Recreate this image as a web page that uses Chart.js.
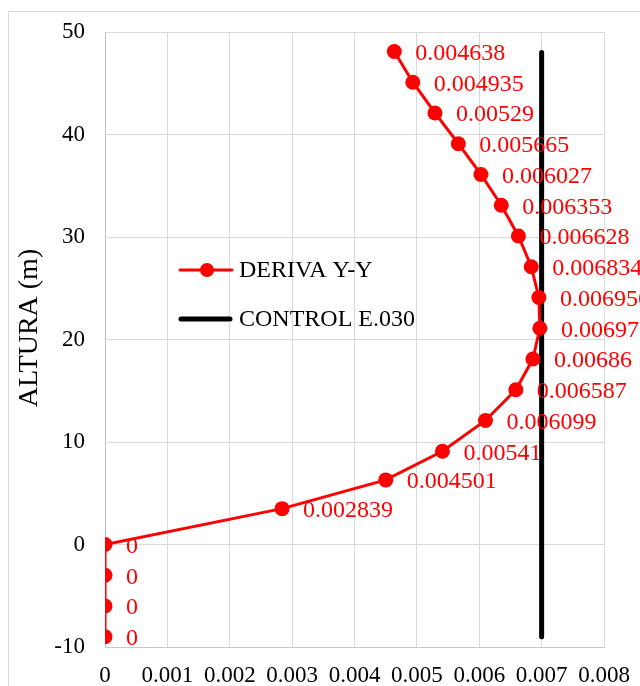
<!DOCTYPE html>
<html>
<head>
<meta charset="utf-8">
<script src="https://cdn.jsdelivr.net/npm/chart.js@4.4.1/dist/chart.umd.min.js"></script>
<style>
html, body { margin: 0; padding: 0; background: #fff; }
#wrap { position: relative; width: 640px; height: 686px; overflow: hidden; }
#frame { position: absolute; left: 8px; top: 11px; width: 700px; height: 700px; border: 1px solid #d9d9d9; box-sizing: border-box; }
#myChart { position: absolute; left: 0; top: 0; }
</style>
</head>
<body>
<div id="wrap">
  <div id="frame"></div>
  <canvas id="myChart" width="640" height="686"></canvas>
</div>
<script>
// altura de cada nivel (m) y deriva Y-Y
var altura = [-9, -6, -3, 0, 3.5, 6.3, 9.1, 12.1, 15.1, 18.1, 21.1, 24.1, 27.1, 30.1, 33.1, 36.1, 39.1, 42.1, 45.1, 48.1]
var deriva = [0, 0, 0, 0, 0.002839, 0.004501, 0.00541, 0.006099, 0.006587, 0.00686, 0.006972, 0.006956, 0.006834, 0.006628, 0.006353, 0.006027, 0.005665, 0.00529, 0.004935, 0.004638]

// limite E.030
var controlX = [0.007, 0.007]
var controlY = [-9, 48]

var xTicks = [0, 0.001, 0.002, 0.003, 0.004, 0.005, 0.006, 0.007, 0.008]
var yTicks = [-10, 0, 10, 20, 30, 40, 50]

var serif = "'Liberation Serif', 'Times New Roman', serif"

var toPoints = function(xs, ys) {
	var pts = []
	for (var i = 0; i < xs.length; i++) {
		pts.push({ x: xs[i], y: ys[i] })
	}
	return pts
}

// etiquetas rojas al lado de cada punto
var labelPlugin = {
	id: 'pointLabels',
	afterDatasetDraw: function(chart, args) {
		if (args.index !== 0) return
		var ctx = chart.ctx
		var meta = chart.getDatasetMeta(0)
		ctx.save()
		ctx.font = '24px ' + serif
		ctx.fillStyle = '#ff0000'
		ctx.textAlign = 'left'
		ctx.textBaseline = 'middle'
		meta.data.forEach(function(pt, i) {
			ctx.fillText(String(deriva[i]), pt.x + 21, pt.y + 2)
		})
		ctx.restore()
	}
}

// leyenda dentro del area y titulo del eje Y
var legendPlugin = {
	id: 'insideLegend',
	afterDraw: function(chart) {
		var ctx = chart.ctx
		var ds = chart.data.datasets
		ctx.save()
		ctx.lineCap = 'round'
		ctx.strokeStyle = '#ff0000'
		ctx.lineWidth = 3
		ctx.beginPath()
		ctx.moveTo(180, 270)
		ctx.lineTo(232, 270)
		ctx.stroke()
		ctx.fillStyle = '#ff0000'
		ctx.beginPath()
		ctx.arc(207, 270, 7, 0, Math.PI * 2)
		ctx.fill()

		ctx.strokeStyle = '#000'
		ctx.lineWidth = 5
		ctx.beginPath()
		ctx.moveTo(181, 319)
		ctx.lineTo(230, 319)
		ctx.stroke()

		ctx.font = '24px ' + serif
		ctx.fillStyle = '#000'
		ctx.textAlign = 'left'
		ctx.textBaseline = 'middle'
		ctx.fillText(ds[0].label, 239, 271)
		ctx.fillText(ds[1].label, 239, 320)

		ctx.translate(30, 328)
		ctx.rotate(-Math.PI / 2)
		ctx.textAlign = 'center'
		ctx.font = '28px ' + serif
		ctx.fillText('ALTURA (m)', 0, 0)
		ctx.restore()
	}
}

var ctx = document.getElementById('myChart')

window.myChart = new Chart(ctx, {
	type: 'scatter',
	data: {
		datasets: [{
			label: 'DERIVA Y-Y',
			data: toPoints(deriva, altura),
			showLine: true,
			borderColor: '#ff0000',
			backgroundColor: '#ff0000',
			borderWidth: 3,
			pointRadius: 7.5,
			pointBorderWidth: 0,
			pointBackgroundColor: '#ff0000'
		}, {
			label: 'CONTROL E.030',
			data: toPoints(controlX, controlY),
			showLine: true,
			borderColor: '#000000',
			borderWidth: 5,
			borderCapStyle: 'round',
			pointRadius: 0
		}]
	},
	options: {
		responsive: false,
		animation: false,
		layout: { padding: { top: 32, right: 36, left: 0, bottom: 0 } },
		plugins: {
			legend: { display: false },
			tooltip: { enabled: false }
		},
		scales: {
			x: {
				type: 'linear',
				min: 0,
				max: 0.008,
				afterBuildTicks: function(axis) {
					axis.ticks = xTicks.map(function(v) { return { value: v } })
				},
				afterFit: function(axis) {
					axis.height = 39
					axis.paddingLeft = 0
					axis.paddingRight = 0
				},
				ticks: {
					padding: 15,
					color: '#000',
					font: { family: serif, size: 23 },
					callback: function(v) { return String(+v.toFixed(3)) }
				},
				grid: { color: '#d9d9d9', lineWidth: 1, drawTicks: false },
				border: { color: '#c8c8c8', width: 1 }
			},
			y: {
				min: -10,
				max: 50,
				afterBuildTicks: function(axis) {
					axis.ticks = yTicks.map(function(v) { return { value: v } })
				},
				afterFit: function(axis) {
					axis.width = 105
					axis.paddingTop = 0
					axis.paddingBottom = 0
				},
				ticks: {
					padding: 20,
					color: '#000',
					font: { family: serif, size: 23 }
				},
				grid: { color: '#d9d9d9', lineWidth: 1, drawTicks: false },
				border: { color: '#bfbfbf', width: 1 }
			}
		}
	},
	plugins: [labelPlugin, legendPlugin]
})
</script>
</body>
</html>
